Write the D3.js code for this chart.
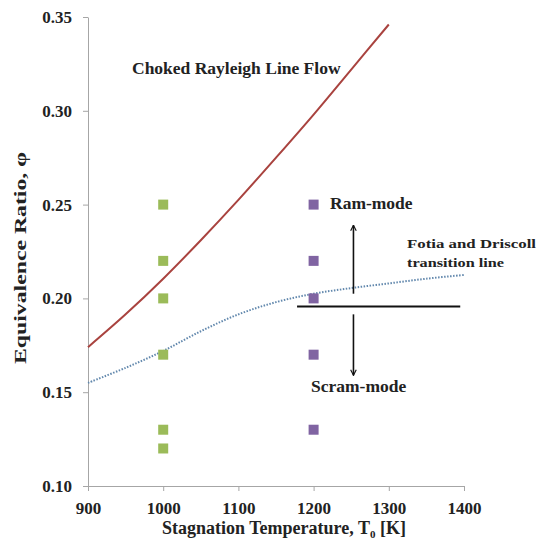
<!DOCTYPE html>
<html>
<head>
<meta charset="utf-8">
<script src="https://cdn.jsdelivr.net/npm/d3@7"></script>
<style>
  body { margin: 0; background: #fff; }
  text { font-family: "Liberation Serif", "DejaVu Serif", serif; font-weight: bold; fill: #222; }
</style>
</head>
<body>
<div class="chart"></div>
<script>
var margin = { left: 88, top: 17, right: 73, bottom: 59 };
var width = 537, height = 545;

// data
var xTicks = [900, 1000, 1100, 1200, 1300, 1400];
var yTicks = [0.10, 0.15, 0.20, 0.25, 0.30, 0.35];

var temp1000 = 1000;
var phiGreen = [0.25, 0.22, 0.20, 0.17, 0.13, 0.12];
var temp1200 = 1200;
var phiPurple = [0.25, 0.22, 0.20, 0.17, 0.13];

var rayleighT = [900, 950, 1000, 1050, 1100, 1150, 1200, 1250, 1300];
var rayleighPhi = [0.174, 0.1915, 0.2105, 0.231, 0.2525, 0.275, 0.298, 0.322, 0.346];

var fotiaT = [900, 950, 1000, 1050, 1100, 1150, 1200, 1250, 1300, 1350, 1400];
var fotiaPhi = [0.155, 0.163, 0.172, 0.1825, 0.1915, 0.198, 0.2025, 0.2055, 0.208, 0.2105, 0.2125];

// annotation: divider line and arrows (data units)
var dividerT = [1178, 1395];
var dividerPhi = 0.1957;
var arrowT = 1253;
var arrowUp = [0.2025, 0.239];
var arrowDown = [0.1915, 0.159];

var innerW = width - margin.left - margin.right;
var innerH = height - margin.top - margin.bottom;

var svg = d3.select(".chart")
    .append("svg")
    .attr("width", width)
    .attr("height", height);

var defs = svg.append("defs");
defs.append("marker")
    .attr("id", "arrow")
    .attr("viewBox", "0 0 10 10")
    .attr("refX", 9)
    .attr("refY", 5)
    .attr("markerWidth", 7)
    .attr("markerHeight", 7)
    .attr("markerUnits", "userSpaceOnUse")
    .attr("orient", "auto")
    .append("path")
    .attr("d", "M1,1 L9,5 L1,9")
    .attr("fill", "none")
    .attr("stroke", "#111")
    .attr("stroke-width", 1.6);

var g = svg.append("g")
    .attr("transform", "translate(" + margin.left + "," + margin.top + ")");

var x = d3.scaleLinear().domain([900, 1400]).range([0, innerW]);
var y = d3.scaleLinear().domain([0.10, 0.35]).range([innerH, 0]);

var xAxis = g.append("g")
    .attr("transform", "translate(0," + innerH + ")")
    .call(d3.axisBottom(x).tickValues(xTicks).tickSize(5).tickSizeOuter(0).tickFormat(d3.format("d")));
var yAxis = g.append("g")
    .call(d3.axisLeft(y).tickValues(yTicks).tickSize(5).tickSizeOuter(0).tickFormat(d3.format(".2f")));

[xAxis, yAxis].forEach(function (a) {
    a.select(".domain").attr("stroke", "#a6a6a6");
    a.selectAll(".tick line").attr("stroke", "#a6a6a6");
    a.selectAll(".tick text")
        .style("font-family", "Liberation Serif")
        .style("font-weight", "bold")
        .style("font-size", "17px")
        .attr("fill", "#222");
});
xAxis.selectAll(".tick text").attr("dy", "1.15em");
yAxis.selectAll(".tick text").attr("x", -16);

var line = d3.line()
    .x(function (d) { return x(d[0]); })
    .y(function (d) { return y(d[1]); })
    .curve(d3.curveCatmullRom);

// rayleigh line
g.append("path")
    .datum(d3.zip(rayleighT, rayleighPhi))
    .attr("d", line)
    .attr("fill", "none")
    .attr("stroke", "#a9433f")
    .attr("stroke-width", 2);

// fotia and driscoll line
g.append("path")
    .datum(d3.zip(fotiaT, fotiaPhi))
    .attr("d", line)
    .attr("fill", "none")
    .attr("stroke", "#6288ad")
    .attr("stroke-width", 2)
    .attr("stroke-dasharray", "1.5,1.5");

var sz = 10;
g.selectAll(".green")
    .data(phiGreen)
    .enter()
    .append("rect")
    .attr("class", "green")
    .attr("x", x(temp1000) - sz / 2)
    .attr("y", function (d) { return y(d) - sz / 2; })
    .attr("width", sz)
    .attr("height", sz)
    .attr("fill", "#9bbb59");

g.selectAll(".purple")
    .data(phiPurple)
    .enter()
    .append("rect")
    .attr("class", "purple")
    .attr("x", x(temp1200) - sz / 2)
    .attr("y", function (d) { return y(d) - sz / 2; })
    .attr("width", sz)
    .attr("height", sz)
    .attr("fill", "#8064a2");

// divider + arrows
g.append("line")
    .attr("x1", x(dividerT[0]))
    .attr("x2", x(dividerT[1]))
    .attr("y1", y(dividerPhi))
    .attr("y2", y(dividerPhi))
    .attr("stroke", "#111")
    .attr("stroke-width", 2);

[arrowUp, arrowDown].forEach(function (a) {
    g.append("line")
        .attr("x1", x(arrowT))
        .attr("x2", x(arrowT))
        .attr("y1", y(a[0]))
        .attr("y2", y(a[1]))
        .attr("stroke", "#111")
        .attr("stroke-width", 1.6)
        .attr("marker-end", "url(#arrow)");
});

// labels
svg.append("text")
    .attr("x", 132)
    .attr("y", 74)
    .style("font-size", "17.5px")
    .text("Choked Rayleigh Line Flow");

svg.append("text")
    .attr("x", 330)
    .attr("y", 209)
    .style("font-size", "17.5px")
    .text("Ram-mode");

svg.append("text")
    .attr("x", 311)
    .attr("y", 392)
    .style("font-size", "17.5px")
    .text("Scram-mode");

svg.append("text")
    .attr("x", 407)
    .attr("y", 248)
    .style("font-size", "13.5px")
    .attr("textLength", 129)
    .attr("lengthAdjust", "spacingAndGlyphs")
    .text("Fotia and Driscoll");
svg.append("text")
    .attr("x", 407)
    .attr("y", 267)
    .style("font-size", "13.5px")
    .attr("textLength", 97)
    .attr("lengthAdjust", "spacingAndGlyphs")
    .text("transition line");

var xt = svg.append("text")
    .attr("x", 284)
    .attr("y", 534)
    .attr("text-anchor", "middle")
    .style("font-size", "18px");
xt.append("tspan").text("Stagnation Temperature, T");
xt.append("tspan").attr("dy", 4).style("font-size", "11px").text("0");
xt.append("tspan").attr("dy", -4).text(" [K]");

svg.append("text")
    .attr("transform", "translate(26,258) rotate(-90)")
    .attr("text-anchor", "middle")
    .style("font-size", "17px")
    .attr("textLength", 212)
    .attr("lengthAdjust", "spacingAndGlyphs")
    .text("Equivalence Ratio, φ");
</script>
</body>
</html>
